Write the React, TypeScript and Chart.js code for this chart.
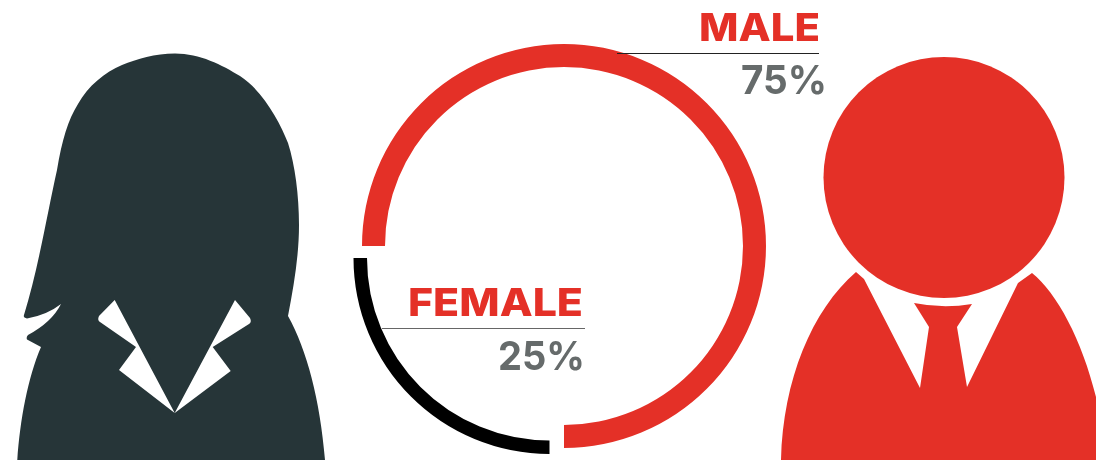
import React, { useEffect, useRef } from "react";
import { Chart, registerables } from "chart.js";

Chart.register(...registerables);

const categories = ["MALE", "FEMALE"];
const values = [75, 25];
const valueLabels = ["75%", "25%"];

const RED = "#e43027";
const DARK = "#263538";
const GREY = "#666b6b";
const FONT = '"Inter", "Liberation Sans", sans-serif';

const womanBody =
  "M17.3 460C20 420 28 377 41 347L27 339.5Q26 337 28 335Q52 322 61 304Q47 315 27 318.5Q23 318 24 315" +
  "C38 270 48 210 57 170C62 140 68 120 78 104C88 86 105 72 122 65C137 59 155 53.5 175 53.5" +
  "C200 53.5 222 65 240 76C262 90 280 122 288 143C295 165 299 195 299 225C299 255 294 285 288 316" +
  "C307 350 320 400 325 460Z";
const womanCollarL = "M114.7 300L99 316Q97 320 100 322L136 347L119 370L174.7 413Z";
const womanCollarR = "M174.7 413L230.7 371L212.7 347L249 324Q252 322 250 318L235 300Z";

const manBody =
  "M781 460C783 380 812 310 856 272L864 279L920 388L929 327L914 303Q943 309 972 304L957 327L967 387L1018 283L1032 273" +
  "C1057 293 1082 340 1096 397L1096 460Z";

const fitText = (ctx: CanvasRenderingContext2D, text: string, left: number, right: number, base: number) => {
  const w = ctx.measureText(text).width;
  ctx.save();
  ctx.translate(left, base);
  ctx.scale((right - left) / w, 1);
  ctx.textAlign = "left";
  ctx.fillText(text, 0, 0);
  ctx.restore();
};

const labelsPlugin = {
  id: "labels",
  afterDraw(chart: Chart) {
    const ctx = chart.ctx;
    ctx.save();
    ctx.textBaseline = "alphabetic";
    const rows = [
      { c: 0, l: 699, r: 820, base: 41, line: [617, 819, 53.5], lineColor: "#222222", vl: 741, vr: 827, vBase: 94 },
      { c: 1, l: 408, r: 583, base: 316, line: [382, 585, 328.5], lineColor: "#666666", vl: 498, vr: 585, vBase: 370 },
    ];
    for (const r of rows) {
      ctx.fillStyle = RED;
      ctx.font = `800 38.5px ${FONT}`;
      fitText(ctx, categories[r.c], r.l, r.r, r.base);
      ctx.fillStyle = GREY;
      ctx.font = `700 40px ${FONT}`;
      fitText(ctx, valueLabels[r.c], r.vl, r.vr, r.vBase);
      ctx.strokeStyle = r.lineColor;
      ctx.lineWidth = 1;
      ctx.beginPath();
      ctx.moveTo(r.line[0], r.line[2]);
      ctx.lineTo(r.line[1], r.line[2]);
      ctx.stroke();
    }
    ctx.restore();
  },
};

const ring = (
  canvas: HTMLCanvasElement,
  colors: string[],
  padding: { left: number; right: number; top: number; bottom: number },
  radius: number,
  cutout: number,
  plugins: any[],
) =>
  new Chart(canvas, {
    type: "doughnut",
    data: {
      labels: categories,
      datasets: [{ data: values, backgroundColor: colors, borderWidth: 0 }],
    },
    options: {
      responsive: false,
      animation: false,
      rotation: 270,
      radius,
      cutout,
      layout: { padding },
      events: [],
      plugins: { legend: { display: false }, tooltip: { enabled: false } },
    },
    plugins,
  });

export default function App() {
  const a = useRef<HTMLCanvasElement>(null);
  const b = useRef<HTMLCanvasElement>(null);
  useEffect(() => {
    const c1 = ring(a.current!, [RED, "rgba(0,0,0,0)"], { left: 362, right: 330, top: 44, bottom: 13 }, 202, 179, [labelsPlugin]);
    const c2 = ring(b.current!, ["rgba(0,0,0,0)", "#000000"], { left: 353.5, right: 350.5, top: 62, bottom: 7 }, 196, 182.5, []);
    return () => {
      c1.destroy();
      c2.destroy();
    };
  }, []);
  const layer: React.CSSProperties = { position: "absolute", left: 0, top: 0 };
  return (
    <div style={{ position: "fixed", left: 0, top: 0, width: 1096, height: 461, background: "#fff", overflow: "hidden" }}>
      <svg width={1096} height={461} style={layer}>
        <path d={womanBody} fill={DARK} />
        <path d={womanCollarL} fill="#fff" />
        <path d={womanCollarR} fill="#fff" />
        <circle cx={944} cy={177.5} r={120.5} fill={RED} />
        <path d={manBody} fill={RED} />
      </svg>
      <canvas ref={a} width={1096} height={461} style={layer} />
      <canvas ref={b} width={1096} height={461} style={layer} />
    </div>
  );
}
